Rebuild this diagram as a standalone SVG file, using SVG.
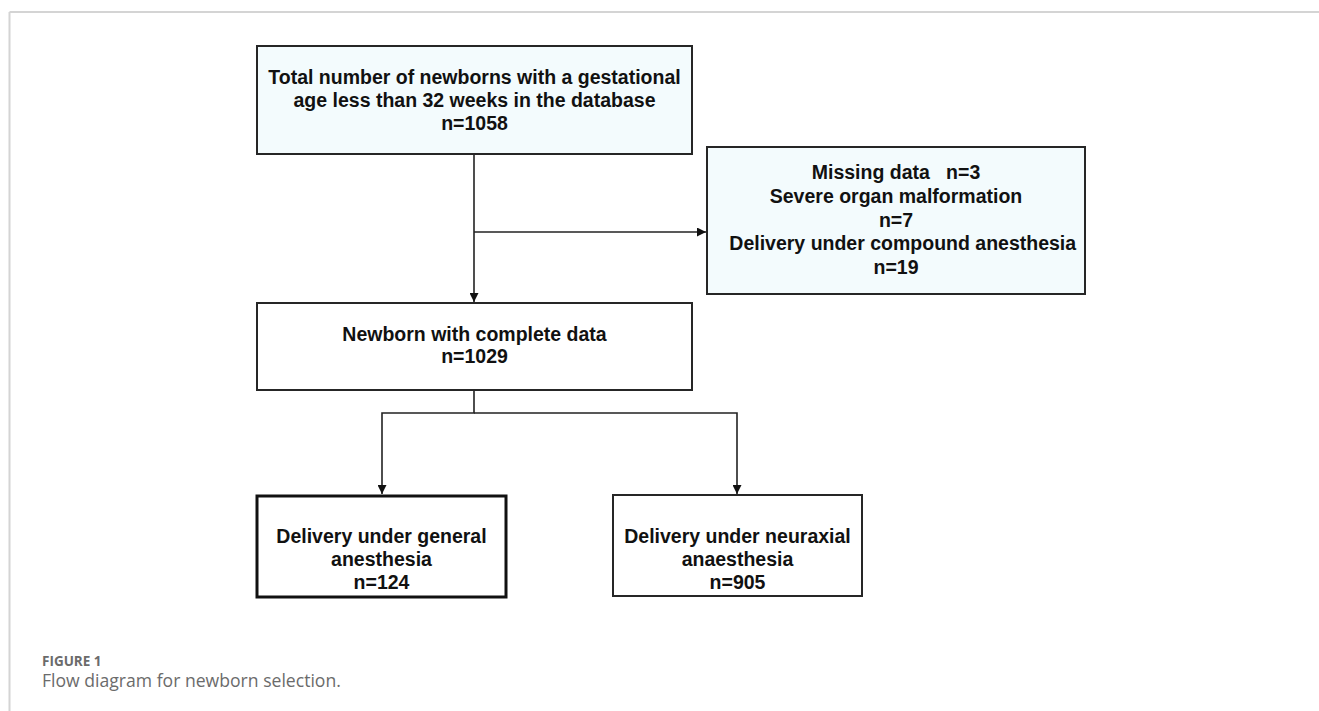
<svg xmlns="http://www.w3.org/2000/svg" width="1319" height="711" viewBox="0 0 1319 711">
<defs>
<style>
.box{fill:#ffffff;stroke:#262626;stroke-width:2}
.tint{fill:#f3fbfd}
.t{font-family:"Liberation Sans",Arial,sans-serif;font-weight:bold;font-size:19.5px;fill:#111;text-anchor:middle;white-space:pre}
.c{fill:none;stroke:#222;stroke-width:1.6}
.frame{stroke:#d4d4d4;stroke-width:2;fill:none}
</style>
<marker id="ah" viewBox="0 0 10 10" refX="10" refY="5" markerWidth="9" markerHeight="9" markerUnits="userSpaceOnUse" orient="auto">
<path d="M0,0 L10,5 L0,10 z" fill="#111"/>
</marker>
</defs>
<rect width="1319" height="711" fill="#ffffff"/>
<g id="frame">
<line class="frame" x1="9.5" y1="12" x2="1319" y2="12"/>
<line class="frame" x1="9.5" y1="12" x2="9.5" y2="711" stroke="#c8c8c8"/>
</g>
<g id="connectors">
<line class="c" x1="474" y1="154" x2="474" y2="302" marker-end="url(#ah)"/>
<line class="c" x1="474" y1="232" x2="706" y2="232" marker-end="url(#ah)"/>
<polyline class="c" points="474,390 474,413 382,413 382,494" marker-end="url(#ah)"/>
<polyline class="c" points="474,413 737,413 737,494" marker-end="url(#ah)"/>
</g>
<g id="n1">
<rect class="box tint" x="257" y="46" width="435" height="108"/>
<text class="t" x="474.5" y="84">Total number of newborns with a gestational</text>
<text class="t" x="474.5" y="107">age less than 32 weeks in the database</text>
<text class="t" x="474.5" y="130">n=1058</text>
</g>
<g id="n2">
<rect class="box tint" x="707" y="147" width="378" height="147"/>
<text class="t" x="896" y="179">Missing data   n=3</text>
<text class="t" x="896" y="203">Severe organ malformation</text>
<text class="t" x="896" y="226.5">n=7</text>
<text class="t" x="900" y="250"> Delivery under compound anesthesia</text>
<text class="t" x="896" y="274">n=19</text>
</g>
<g id="n3">
<rect class="box" x="257" y="303" width="435" height="87"/>
<text class="t" x="474.5" y="341">Newborn with complete data</text>
<text class="t" x="474.5" y="363">n=1029</text>
</g>
<g id="n4">
<rect class="box" x="257" y="496" width="249" height="101" style="stroke:#111;stroke-width:3"/>
<text class="t" x="381.5" y="543">Delivery under general</text>
<text class="t" x="381.5" y="566">anesthesia</text>
<text class="t" x="381.5" y="589">n=124</text>
</g>
<g id="n5">
<rect class="box" x="613" y="495" width="249" height="101"/>
<text class="t" x="737.5" y="543">Delivery under neuraxial</text>
<text class="t" x="737.5" y="566">anaesthesia</text>
<text class="t" x="737.5" y="589">n=905</text>
</g>
<g id="caption">
<text x="42" y="666" style="font-family:'Open Sans','Liberation Sans',sans-serif;font-weight:bold;font-size:13.5px;fill:#6b6b6b">FIGURE 1</text>
<text x="42" y="687" style="font-family:'Open Sans','Liberation Sans',sans-serif;font-size:17.6px;fill:#6b6b6b">Flow diagram for newborn selection.</text>
</g>
</svg>
